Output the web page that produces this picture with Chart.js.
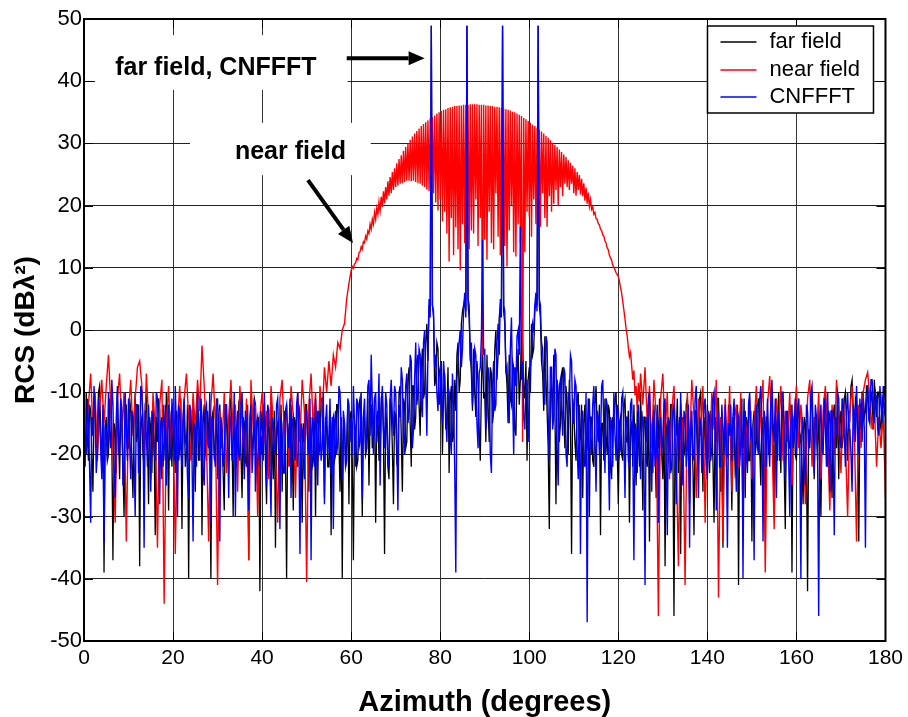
<!DOCTYPE html>
<html>
<head>
<meta charset="utf-8">
<title>RCS vs azimuth</title>
<script src="https://cdn.jsdelivr.net/npm/chart.js@4.4.0/dist/chart.umd.min.js"></script>
<style>
  body { margin: 0; background: #fff; }
  canvas { display: block; }
</style>
</head>
<body>
<canvas id="rcs" width="908" height="717"></canvas>
<script>
// values, dB lambda^2, every 0.25 deg from 0 to 180
const farField = [
  -15,-22,-10,-17,-21,-12,-13,-20,-26,-14,-11,-19,-18,-10,-9,-16,-23,-13,-39,-16,   // 0
  -14,-21,-20,-11,-12,-18,-37,-15,-16,-23,-10,-17,-24,-13,-15,-22,-30,-14,-12,-19,  // 5
  -19,-11,-13,-21,-27,-14,-10,-18,-17,-12,-38,-15,-14,-20,-22,-12,-11,-17,-28,-14,  // 10
  -16,-23,-12,-18,-33,-14,-18,-11,-13,-20,-24,-12,-15,-21,-10,-17,-29,-13,-17,-22,  // 15
  -12,-19,-23,-13,-14,-21,-19,-11,-32,-15,-13,-22,-20,-12,-40,-16,-15,-20,-11,-18,  // 20
  -26,-13,-14,-21,-18,-11,-33,-15,-12,-19,-21,-13,-16,-23,-40,-14,-13,-20,-19,-11,  // 25
  -24,-14,-12,-19,-17,-23,-29,-13,-14,-20,-21,-12,-11,-18,-30,-15,-16,-22,-19,-12,  // 30
  -13,-20,-27,-14,-15,-21,-22,-12,-37,-16,-14,-19,-18,-11,-12,-20,-25,-14,-42,-17,  // 35
  -20,-12,-13,-21,-28,-14,-16,-22,-11,-18,-24,-13,-35,-16,-15,-21,-19,-12,-26,-15,  // 40
  -13,-20,-40,-15,-17,-22,-12,-18,-29,-14,-15,-21,-22,-12,-14,-19,-31,-15,-18,-12,  // 45
  -12,-19,-26,-14,-16,-22,-21,-12,-30,-15,-13,-20,-19,-11,-11,-17,-27,-14,-16,-22,  // 50
  -22,-13,-33,-15,-14,-21,-20,-12,-12,-18,-26,-14,-40,-16,-15,-22,-18,-12,-28,-14,  // 55
  -13,-21,-37,-15,-16,-22,-21,-12,-11,-18,-30,-14,-14,-20,-19,-11,-25,-14,-12,-19,  // 60
  -17,-11,-31,-14,-13,-21,-20,-11,-10,-17,-36,-13,-15,-22,-24,-11,-12,-19,-28,-13,  // 65
  -14,-21,-20,-10,-9,-17,-26,-11,-12,-19,-18,-8,-6,-15,-22,-9,-9,-16,-14,-5,        // 70
  -4,-12,-17,-6,-3,-11,-10,-2,1,-5,4,3,48.9,4,2,-9,-8,-2,-3,-12,                     // 75
  -11,-5,-20,-10,-7,-16,-14,-6,-23,-11,-9,-18,-17,-8,-13,-4,-2,-10,-8,1,             // 80
  3,4,5,3,48.9,4,2,-4,-7,-13,-3,-10,-14,-5,-8,-16,-21,-9,-2,-11,                     // 85
  -10,-18,-4,-12,-18,-6,-7,-15,-13,-3,0,-8,-4,2,4,3,48.9,3,1,-6,                     // 90
  -9,-15,-4,-11,-12,-5,-6,-16,-17,-7,-3,-12,-8,-1,-2,-9,-11,-5,-21,-8,               // 95
  -6,-10,1,-4,-3,3,5,4,48.9,4,2,-5,-7,-13,-1,-8,-13,-19,-32,-10,                     // 100
  -9,-15,-4,-12,-28,-8,-10,-18,-15,-7,-6,-14,-19,-9,-12,-20,-8,-14,-36,-11,          // 105
  -13,-18,-21,-11,-10,-19,-17,-12,-27,-15,-12,-20,-19,-11,-30,-14,-14,-21,-22,-12,  // 110
  -9,-16,-18,-12,-33,-15,-15,-21,-11,-17,-20,-12,-13,-22,-24,-14,-16,-11,-10,-19,   // 115
  -28,-15,-14,-20,-21,-12,-11,-18,-18,-13,-31,-16,-15,-22,-12,-19,-25,-13,-17,-22,  // 120
  -10,-18,-29,-14,-14,-21,-22,-12,-34,-15,-16,-23,-12,-18,-27,-13,-19,-11,-13,-20,  // 125
  -24,-14,-38,-16,-15,-21,-20,-12,-12,-19,-46,-15,-17,-11,-23,-14,-36,-16,-14,-20,  // 130
  -19,-12,-11,-18,-28,-14,-16,-22,-33,-13,-13,-20,-21,-11,-10,-17,-26,-14,-17,-22,  // 135
  -12,-19,-23,-13,-15,-21,-31,-14,-18,-11,-11,-20,-26,-14,-35,-16,-14,-21,-20,-12,  // 140
  -13,-19,-29,-14,-16,-23,-22,-12,-41,-15,-12,-18,-19,-11,-27,-14,-15,-21,-21,-13,  // 145
  -34,-15,-13,-20,-18,-12,-11,-19,-25,-14,-16,-22,-31,-14,-14,-20,-20,-11,-12,-18,  // 150
  -27,-14,-15,-21,-10,-17,-23,-12,-17,-22,-32,-15,-13,-19,-19,-12,-39,-15,-14,-20,  // 155
  -21,-13,-12,-18,-17,-22,-28,-14,-15,-20,-42,-16,-19,-12,-11,-18,-24,-14,-16,-21,  // 160
  -13,-20,-30,-15,-18,-11,-10,-17,-22,-13,-14,-20,-27,-14,-12,-18,-19,-11,-24,-15,  // 165
  -13,-19,-17,-11,-10,-15,-21,-13,-14,-9,-8,-13,-18,-11,-12,-17,-34,-14,-16,-10,    // 170
  -10,-14,-13,-9,-9,-14,-15,-10,-11,-16,-8,-12,-14,-10,-10,-15,-16,-11,-12,-9,      // 175
  -11                                                                                // 180
];

const cnffft = [
  -12,-17,-20,-11,-15,-22,-31,-14,-17,-9,-13,-23,-20,-11,-14,-19,-24,-12,-34,-15,   // 0
  -16,-21,-10,-17,-19,-8,-12,-22,-27,-14,-9,-20,-18,-11,-13,-25,-22,-10,-16,-21,    // 5
  -11,-18,-24,-13,-14,-21,-30,-12,-12,-23,-19,-9,-10,-16,-35,-13,-17,-22,-12,-18,   // 10
  -26,-13,-15,-20,-21,-10,-11,-17,-28,-15,-14,-22,-18,-12,-25,-16,-12,-21,-20,-11,  // 15
  -15,-21,-9,-16,-30,-12,-13,-19,-22,-14,-11,-18,-17,-24,-27,-12,-13,-20,-34,-15,   // 20
  -16,-22,-10,-15,-21,-11,-14,-23,-25,-13,-12,-18,-19,-10,-31,-14,-15,-20,-22,-12,  // 25
  -11,-19,-34,-14,-16,-22,-20,-12,-12,-17,-27,-15,-14,-21,-18,-10,-30,-16,-13,-20,  // 30
  -21,-12,-10,-18,-24,-13,-15,-20,-29,-14,-12,-23,-19,-11,-26,-15,-14,-19,-22,-13,  // 35
  -16,-21,-10,-17,-25,-12,-13,-22,-30,-14,-15,-19,-20,-12,-11,-18,-32,-14,-17,-23,  // 40
  -23,-13,-12,-18,-19,-11,-27,-15,-14,-20,-21,-12,-10,-17,-36,-15,-16,-21,-24,-13,  // 45
  -13,-18,-20,-11,-37,-14,-15,-22,-11,-17,-25,-13,-14,-21,-19,-10,-28,-15,-12,-20,  // 50
  -17,-11,-23,-14,-32,-15,-13,-20,-18,-9,-10,-16,-24,-13,-15,-22,-21,-11,-12,-18,   // 55
  -14,-20,-9,-15,-22,-11,-12,-19,-18,-10,-27,-14,-11,-20,-16,-9,-8,-17,-4,-12,      // 60
  -20,-11,-10,-18,-15,-7,-25,-13,-9,-16,-19,-10,-12,-21,-22,-11,-8,-14,-17,-9,      // 65
  -10,-18,-29,-12,-14,-6,-8,-17,-20,-9,-7,-15,-13,-4,-5,-19,-16,-8,-2,-12,          // 70
  -10,-3,-4,-12,-14,-2,0,-8,-17,-3,5,2,48.9,4,3,-6,-4,-10,-13,-7,                    // 75
  -6,-12,-15,-5,-8,-14,-18,-9,-10,-17,-20,-7,-12,-22,-39,-8,-5,-2,0,-6,              // 80
  -3,3,6,2,48.9,5,4,-5,-2,-12,-9,-3,-4,-15,-19,-7,-6,-1,14.5,-4,                     // 85
  -3,-16,-14,-6,-8,-20,-23,-9,-5,-13,-12,-2,1,-4,5,2,48.9,4,3,-7,                    // 90
  -6,-11,-15,-3,2,-10,-20,-6,-9,-1,0,-4,16.6,-8,-5,-14,-16,-9,-8,-18,                // 95
  -12,-6,-4,1,0,4,6,3,48.9,5,4,-2,-3,-9,-12,-1,-2,-14,-21,-6,                        // 100
  -6,-16,-14,-3,-4,-19,-25,-9,-8,-13,-17,-6,-7,-20,-22,-10,-11,-4,-5,-15,            // 105
  -15,-8,-9,-19,-24,-12,-36,-14,-13,-21,-22,-10,-47,-15,-11,-18,-20,-12,-9,-17,     // 110
  -26,-13,-14,-20,-18,-9,-8,-16,-23,-11,-12,-19,-29,-14,-15,-22,-10,-17,-21,-12,    // 115
  -13,-20,-19,-11,-10,-17,-27,-14,-14,-21,-22,-12,-11,-19,-37,-15,-16,-23,-12,-18,  // 120
  -24,-13,-15,-21,-41,-14,-18,-11,-10,-19,-26,-15,-13,-22,-20,-12,-31,-16,-14,-20,  // 125
  -17,-12,-11,-20,-33,-14,-15,-23,-22,-13,-12,-19,-28,-14,-16,-21,-10,-18,-25,-13,  // 130
  -14,-22,-19,-12,-35,-16,-13,-20,-21,-11,-9,-17,-27,-14,-15,-23,-18,-12,-11,-19,   // 135
  -24,-13,-14,-21,-19,-11,-10,-17,-29,-15,-13,-22,-22,-12,-16,-20,-12,-18,-35,-15,  // 140
  -17,-12,-21,-14,-11,-19,-26,-13,-14,-22,-18,-11,-40,-15,-13,-20,-23,-12,-10,-17,  // 145
  -16,-21,-37,-14,-12,-19,-20,-11,-9,-16,-34,-13,-15,-22,-11,-18,-22,-12,-8,-15,    // 150
  -18,-11,-27,-14,-13,-21,-19,-10,-10,-17,-24,-13,-14,-20,-30,-15,-12,-19,-17,-11,  // 155
  -20,-13,-11,-18,-40,-14,-15,-21,-25,-12,-13,-19,-18,-10,-9,-16,-23,-12,-14,-20,   // 160
  -46,-15,-12,-19,-20,-11,-16,-22,-10,-17,-26,-13,-13,-20,-33,-14,-17,-10,-11,-18,  // 165
  -19,-11,-12,-17,-22,-13,-10,-16,-16,-20,-26,-12,-13,-18,-9,-15,-20,-11,-14,-18,   // 170
  -11,-16,-35,-12,-9,-14,-13,-8,-8,-12,-15,-10,-11,-16,-17,-9,-12,-15,-9,-13,       // 175
  -14                                                                                // 180
];

// near field: 0-59.5 every 0.5 deg
const nearFieldLeft = [
  -9,-18,-12,-7,-16,-10,-21,-13,-8,-15,-9,-4,-12,-19,-31,-11,-7,-16,-10,-34,      // 0
  -13,-8,-17,-11,-6,-5,-9,-20,-7,-14,-24,-10,-16,-35,-12,-8,-44,-15,-9,-19,       // 10
  -12,-36,-15,-9,-18,-11,-7,-14,-21,-10,-16,-8,-13,-2.5,-9,-18,-34,-12,-7,-15,    // 20
  -41,-13,-19,-10,-23,-14,-8,-17,-12,-26,-9,-15,-21,-11,-37,-8,-16,-12,-30,-14,   // 30
  -10,-18,-13,-24,-9,-15,-20,-31,-11,-8,-17,-12,-22,-9,-14,-27,-10,-18,-8,-13,    // 40
  -40.5,-12,-7,-16,-10,-21,-9,-14,-6,-10,-5,-9,-4,-6,-2,-3,0,1,5,7.5              // 50
];

// near field main lobe: 60-124.75 every 0.25 deg
const nearFieldMain = [
  9.6,10.2,9.9,10.6,     10.8,11.5,11.3,12.4,   12.6,13.4,13.0,14.2,   14.0,15.1,14.6,15.9,   // 60-63
  15.5,17.0,16.2,17.8,   17.0,18.9,17.8,19.6,   18.6,20.6,19.2,21.4,   19.8,22.3,20.4,23.0,   // 64-67
  21.0,23.9,21.6,24.6,   22.0,25.4,22.5,26.0,   23.0,26.8,23.2,27.5,   23.5,28.1,23.6,28.8,   // 68-71
  23.8,29.4,24.0,30.0,   24.0,30.6,23.9,31.1,   24.0,31.6,23.8,32.0,   23.6,32.4,23.5,32.8,   // 72-75
  23.2,33.1,23.0,33.4,   22.6,33.7,22.3,34.0,   21.5,34.2,22.0,34.5,   20.5,34.8,19.2,35.0,   // 76-79
  21.0,35.2,17.5,35.4,   19.0,35.5,15.5,35.7,   11.0,35.8,18.0,35.9,   12.0,36.0,16.5,36.0,   // 80-83
  13.0,36.1,9.6,36.1,    17.0,36.2,14.0,36.2,   20.0,36.2,13.0,36.3,   16.0,36.3,15.5,36.3,   // 84-87
  21.0,36.3,13.5,36.2,   18.0,36.2,-4.0,36.2,   14.5,36.1,11.3,36.1,   19.0,36.0,14.0,36.0,   // 88-91
  13.0,35.9,22.0,35.9,   15.0,35.8,12.0,35.7,   18.0,35.6,13.5,35.5,   10.2,35.4,16.0,35.3,   // 92-95
  20.0,35.1,12.5,35.0,   11.8,34.8,17.0,34.6,   14.0,34.4,-18.0,34.1,  12.5,33.9,19.0,33.6,   // 96-99
  18.2,33.3,15.0,33.0,   21.0,32.8,17.0,32.5,   19.5,32.2,16.6,31.9,   22.0,31.6,18.0,31.2,   // 100-103
  16.6,30.9,21.5,30.5,   19.0,30.1,20.3,29.8,   22.5,29.4,20.0,29.0,   23.0,28.6,21.5,28.2,   // 104-107
  23.5,27.8,23.0,27.3,   22.5,26.9,23.5,26.4,   22.0,26.0,21.6,25.4,   22.5,24.9,21.8,24.3,   // 108-111
  21.5,23.6,20.8,22.9,   20.3,22.1,19.9,21.0,   19.4,19.8,18.6,18.9,   17.9,17.8,17.1,16.9,   // 112-115
  16.2,16.0,15.3,15.1,   14.3,14.0,13.2,12.9,   12.0,11.6,11.2,10.4,   10.1,9.7,9.2,8.9,      // 116-119
  8.6,7.8,6.8,5.9,       4.6,3.2,1.8,0.2,       -1.0,-2.8,-4.3,-3.6,   -5.8,-8.0,-6.5,-10.5,  // 120-123
  -9.0,-13.0,-8.5,-11.5                                                                    // 124
];

// near field: 125-180 every 0.5 deg
const nearFieldRight = [
  -7,-12,-6,-15,-9,-19,-8,-14,-46,-11,                 // 125
  -7,-17,-10,-24,-13,-9,-20,-38,-12,-16,               // 130
  -41,-10,-19,-8,-14,-27,-11,-17,-9,-31,               // 135
  -13,-21,-10,-16,-8,-43,-14,-34,-11,-20,              // 140
  -9,-26,-15,-12,-22,-10,-29,-14,-18,-11,              // 145
  -24,-15,-9,-20,-13,-8,-39,-12,-7.4,-17,              // 150
  -32,-11,-15,-9,-21,-13,-18,-10,-25,-14,              // 155
  -9,-19,-12,-16,-28,-11,-8,-22,-14,-18,               // 160
  -10,-24,-13,-9,-17,-29,-12,-20,-8,-15,               // 165
  -23,-11,-18,-30,-13,-9,-16,-34,-12,-19,              // 170
  -10,-8,-6.8,-11,-16,-12,-22,-14,-19,-13,-27          // 175-180
];

const seriesLabels = ['far field', 'near field', 'CNFFFT'];
const seriesColors = ['#000000', '#ff0000', '#0000ff'];
const yTicks = { min: -50, max: 50, step: 10 };
const xTicks = { min: 0, max: 180, step: 20 };

const azimuth = farField.map((_, i) => i * 0.25);
const nearAzimuth = [
  ...nearFieldLeft.map((_, i) => i * 0.5),
  ...nearFieldMain.map((_, i) => 60 + i * 0.25),
  ...nearFieldRight.map((_, i) => 125 + i * 0.5)
];
const nearField = [...nearFieldLeft, ...nearFieldMain, ...nearFieldRight];

const toPoints = (xs, ys) => ys.map((y, i) => ({ x: xs[i], y: y }));

const FONT = '"Liberation Sans", Arial, Helvetica, sans-serif';

function arrow(ctx, x1, y1, x2, y2) {
  const ang = Math.atan2(y2 - y1, x2 - x1);
  const headLen = 16, headHalf = 7;
  const bx = x2 - headLen * Math.cos(ang), by = y2 - headLen * Math.sin(ang);
  ctx.beginPath();
  ctx.moveTo(x1, y1);
  ctx.lineTo(bx, by);
  ctx.lineWidth = 4;
  ctx.stroke();
  ctx.beginPath();
  ctx.moveTo(x2, y2);
  ctx.lineTo(bx + headHalf * Math.sin(ang), by - headHalf * Math.cos(ang));
  ctx.lineTo(bx - headHalf * Math.sin(ang), by + headHalf * Math.cos(ang));
  ctx.closePath();
  ctx.fill();
}

// white label boxes, arrows, axes box, inward ticks and the legend
const decorations = {
  id: 'decorations',
  beforeDatasetsDraw(chart) {
    const { ctx, scales: { x, y } } = chart;
    ctx.save();
    ctx.fillStyle = '#fff';
    // behind "far field, CNFFFT"
    ctx.fillRect(x.getPixelForValue(2.5), y.getPixelForValue(47.4),
      x.getPixelForValue(59.2) - x.getPixelForValue(2.5), y.getPixelForValue(38.6) - y.getPixelForValue(47.4));
    // behind "near field"
    ctx.fillRect(x.getPixelForValue(23.8), y.getPixelForValue(33.3),
      x.getPixelForValue(64.4) - x.getPixelForValue(23.8), y.getPixelForValue(24.9) - y.getPixelForValue(33.3));
    ctx.restore();
  },
  afterDatasetsDraw(chart) {
    const { ctx, chartArea: a, scales: { x, y } } = chart;
    ctx.save();

    // axes box
    ctx.strokeStyle = '#000';
    ctx.lineWidth = 2;
    ctx.strokeRect(a.left, a.top, a.right - a.left, a.bottom - a.top);

    // inward tick marks, matlab style
    ctx.lineWidth = 1;
    ctx.beginPath();
    for (let v = yTicks.min; v <= yTicks.max; v += yTicks.step) {
      const py = Math.round(y.getPixelForValue(v)) + 0.5;
      ctx.moveTo(a.left, py); ctx.lineTo(a.left + 9, py);
      ctx.moveTo(a.right, py); ctx.lineTo(a.right - 9, py);
    }
    for (let v = xTicks.min; v <= xTicks.max; v += xTicks.step) {
      const px = Math.round(x.getPixelForValue(v)) + 0.5;
      ctx.moveTo(px, a.bottom); ctx.lineTo(px, a.bottom - 9);
      ctx.moveTo(px, a.top); ctx.lineTo(px, a.top + 9);
    }
    ctx.stroke();

    // annotations
    ctx.fillStyle = '#000';
    ctx.strokeStyle = '#000';
    ctx.font = 'bold 25px ' + FONT;
    ctx.textBaseline = 'alphabetic';
    ctx.textAlign = 'left';
    ctx.fillText('far field, CNFFFT', x.getPixelForValue(7), y.getPixelForValue(41));
    ctx.fillText('near field', x.getPixelForValue(33.9), y.getPixelForValue(27.5));
    arrow(ctx, x.getPixelForValue(59), y.getPixelForValue(43.7), x.getPixelForValue(76.5), y.getPixelForValue(43.7));
    arrow(ctx, x.getPixelForValue(50.3), y.getPixelForValue(24.1), x.getPixelForValue(60.4), y.getPixelForValue(14));

    // legend box in the upper right corner
    const lx = a.right - 178, ly = a.top + 7, lw = 166, lh = 87;
    ctx.fillStyle = '#fff';
    ctx.fillRect(lx, ly, lw, lh);
    ctx.strokeStyle = '#000';
    ctx.lineWidth = 1.5;
    ctx.strokeRect(lx, ly, lw, lh);
    ctx.font = '22px ' + FONT;
    ctx.textBaseline = 'middle';
    seriesLabels.forEach((label, i) => {
      const rowY = Math.round(ly + 16 + i * 27.5);
      ctx.strokeStyle = seriesColors[i];
      ctx.lineWidth = 1.5;
      ctx.beginPath();
      ctx.moveTo(lx + 13, rowY);
      ctx.lineTo(lx + 49, rowY);
      ctx.stroke();
      ctx.fillStyle = '#000';
      ctx.fillText(label, lx + 62, rowY);
    });
    ctx.restore();
  }
};

const ctx = document.getElementById('rcs').getContext('2d');

new Chart(ctx, {
  type: 'line',
  data: {
    datasets: [
      {
        label: seriesLabels[0],
        data: toPoints(azimuth, farField),
        borderColor: seriesColors[0],
        borderWidth: 1.3,
        order: 3
      },
      {
        label: seriesLabels[1],
        data: toPoints(nearAzimuth, nearField),
        borderColor: seriesColors[1],
        borderWidth: 1.4,
        order: 2
      },
      {
        label: seriesLabels[2],
        data: toPoints(azimuth, cnffft),
        borderColor: seriesColors[2],
        borderWidth: 1.4,
        order: 1
      }
    ]
  },
  options: {
    responsive: false,
    animation: false,
    devicePixelRatio: 1,
    elements: {
      point: { radius: 0 },
      line: { tension: 0, borderJoinStyle: 'miter' }
    },
    layout: { padding: { left: 0, top: 19, right: 22, bottom: 0 } },
    plugins: {
      legend: { display: false },
      tooltip: { enabled: false }
    },
    scales: {
      x: {
        type: 'linear',
        min: xTicks.min,
        max: xTicks.max,
        afterFit: (scale) => { scale.height = 76; },
        ticks: {
          stepSize: xTicks.step,
          color: '#000',
          padding: 5,
          maxRotation: 0,
          font: { family: FONT, size: 21 }
        },
        grid: { color: '#333', lineWidth: 1, drawTicks: false },
        border: { display: false },
        title: {
          display: true,
          text: 'Azimuth (degrees)',
          color: '#000',
          padding: { top: 0, bottom: 0 },
          font: { family: FONT, size: 29, weight: 'bold', lineHeight: 1 }
        }
      },
      y: {
        type: 'linear',
        min: yTicks.min,
        max: yTicks.max,
        afterFit: (scale) => { scale.width = 84; },
        ticks: {
          stepSize: yTicks.step,
          color: '#000',
          padding: 2,
          font: { family: FONT, size: 22 }
        },
        grid: { color: '#222', lineWidth: 1, drawTicks: false },
        border: { display: false },
        title: {
          display: true,
          text: 'RCS (dBλ²)',
          color: '#000',
          padding: { top: 12, bottom: 0 },
          font: { family: FONT, size: 28, weight: 'bold', lineHeight: 1 }
        }
      }
    }
  },
  plugins: [decorations]
});
</script>
</body>
</html>
